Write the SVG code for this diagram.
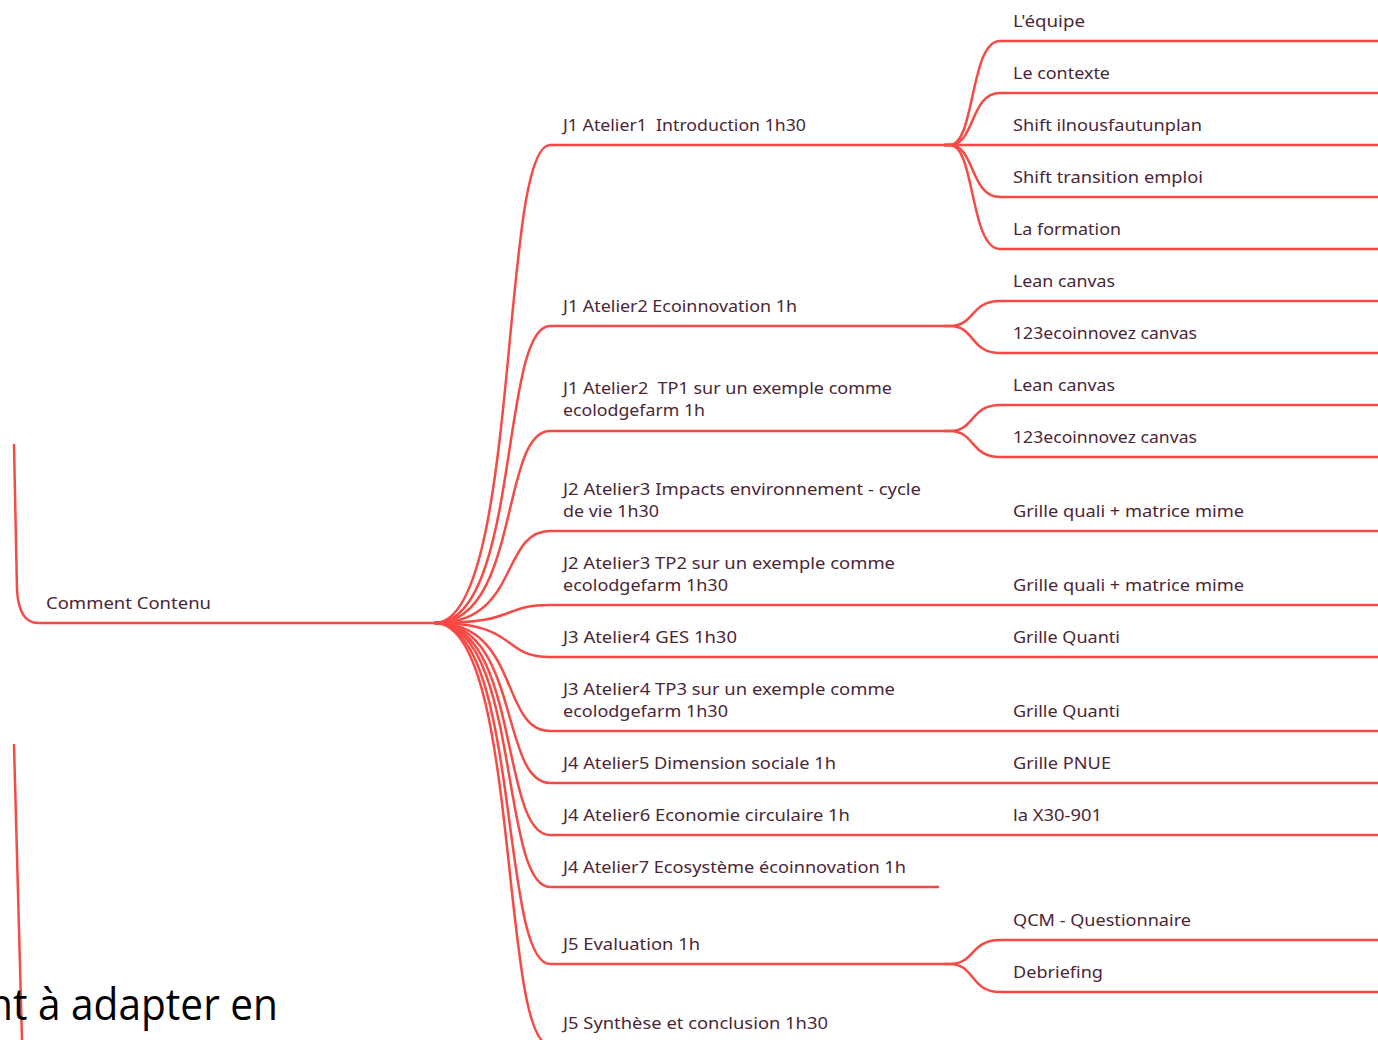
<svg xmlns="http://www.w3.org/2000/svg" width="1378" height="1040" viewBox="0 0 1378 1040">
<style>
.t{font-family:"Noto Sans","Open Sans",sans-serif;font-size:17px;fill:#4a2736;}
.c{fill:none;stroke:#f64a45;stroke-width:2.5;stroke-linecap:round;}
.big{font-family:"Open Sans","Noto Sans",sans-serif;font-size:44px;fill:#000;}
</style>
<rect width="1378" height="1040" fill="#fff"/>
<g id="connectors">
<path class="c" d="M14,445 L17,590 Q19,623 38,623 H435" stroke-width="2.5"/>
<path class="c" d="M14,745 L22,1040" stroke-width="2"/>
<path class="c" d="M435,623 C520,623 500,145 550,145 H945"/>
<path class="c" d="M435,623 C520,623 500,326 550,326 H945"/>
<path class="c" d="M435,623 C520,623 500,431 550,431 H945"/>
<path class="c" d="M435,623 C520,623 500,531 550,531 H1378"/>
<path class="c" d="M435,623 C520,623 500,605 550,605 H1378"/>
<path class="c" d="M435,623 C520,623 500,657 550,657 H1378"/>
<path class="c" d="M435,623 C520,623 500,731 550,731 H1378"/>
<path class="c" d="M435,623 C520,623 500,783 550,783 H1378"/>
<path class="c" d="M435,623 C520,623 500,835 550,835 H1378"/>
<path class="c" d="M435,623 C520,623 500,887 550,887 H938"/>
<path class="c" d="M435,623 C520,623 500,964 550,964 H945"/>
<path class="c" d="M435,623 C520,623 500,1045 550,1045 H945"/>
<path class="c" d="M945,145 H950 C975,145 970,41 1000,41 H1378"/>
<path class="c" d="M945,145 H950 C975,145 970,93 1000,93 H1378"/>
<path class="c" d="M945,145 H1378"/>
<path class="c" d="M945,145 H950 C975,145 970,197 1000,197 H1378"/>
<path class="c" d="M945,145 H950 C975,145 970,249 1000,249 H1378"/>
<path class="c" d="M945,326 H950 C975,326 970,301 1000,301 H1378"/>
<path class="c" d="M945,326 H950 C975,326 970,353 1000,353 H1378"/>
<path class="c" d="M945,431 H950 C975,431 970,405 1000,405 H1378"/>
<path class="c" d="M945,431 H950 C975,431 970,457 1000,457 H1378"/>
<path class="c" d="M945,964 H950 C975,964 970,940 1000,940 H1378"/>
<path class="c" d="M945,964 H950 C975,964 970,992 1000,992 H1378"/>
</g>
<g id="note"><text class="big" x="-12" y="1020" textLength="290" lengthAdjust="spacingAndGlyphs">nt à adapter en</text></g>
<g id="root"><text class="t" x="46" y="609" textLength="165" lengthAdjust="spacingAndGlyphs">Comment Contenu</text></g>
<g id="n1"><text class="t" x="563" y="131" textLength="243" lengthAdjust="spacingAndGlyphs" xml:space="preserve">J1 Atelier1  Introduction 1h30</text></g>
<g id="n2"><text class="t" x="563" y="312" textLength="234" lengthAdjust="spacingAndGlyphs">J1 Atelier2 Ecoinnovation 1h</text></g>
<g id="n3"><text class="t" x="563" y="394" textLength="329" lengthAdjust="spacingAndGlyphs" xml:space="preserve">J1 Atelier2  TP1 sur un exemple comme</text><text class="t" x="563" y="416" textLength="142" lengthAdjust="spacingAndGlyphs">ecolodgefarm 1h</text></g>
<g id="n4"><text class="t" x="563" y="495" textLength="358" lengthAdjust="spacingAndGlyphs">J2 Atelier3 Impacts environnement - cycle</text><text class="t" x="563" y="517" textLength="96" lengthAdjust="spacingAndGlyphs">de vie 1h30</text></g>
<g id="n5"><text class="t" x="563" y="569" textLength="332" lengthAdjust="spacingAndGlyphs">J2 Atelier3 TP2 sur un exemple comme</text><text class="t" x="563" y="591" textLength="165" lengthAdjust="spacingAndGlyphs">ecolodgefarm 1h30</text></g>
<g id="n6"><text class="t" x="563" y="643" textLength="174" lengthAdjust="spacingAndGlyphs">J3 Atelier4 GES 1h30</text></g>
<g id="n7"><text class="t" x="563" y="695" textLength="332" lengthAdjust="spacingAndGlyphs">J3 Atelier4 TP3 sur un exemple comme</text><text class="t" x="563" y="717" textLength="165" lengthAdjust="spacingAndGlyphs">ecolodgefarm 1h30</text></g>
<g id="n8"><text class="t" x="563" y="769" textLength="273" lengthAdjust="spacingAndGlyphs">J4 Atelier5 Dimension sociale 1h</text></g>
<g id="n9"><text class="t" x="563" y="821" textLength="287" lengthAdjust="spacingAndGlyphs">J4 Atelier6 Economie circulaire 1h</text></g>
<g id="n10"><text class="t" x="563" y="873" textLength="343" lengthAdjust="spacingAndGlyphs">J4 Atelier7 Ecosystème écoinnovation 1h</text></g>
<g id="n11"><text class="t" x="563" y="950" textLength="137" lengthAdjust="spacingAndGlyphs">J5 Evaluation 1h</text></g>
<g id="n12"><text class="t" x="563" y="1029" textLength="265" lengthAdjust="spacingAndGlyphs">J5 Synthèse et conclusion 1h30</text></g>
<g id="c1"><text class="t" x="1013" y="27" textLength="72" lengthAdjust="spacingAndGlyphs">L'équipe</text></g>
<g id="c2"><text class="t" x="1013" y="79" textLength="97" lengthAdjust="spacingAndGlyphs">Le contexte</text></g>
<g id="c3"><text class="t" x="1013" y="131" textLength="189" lengthAdjust="spacingAndGlyphs">Shift ilnousfautunplan</text></g>
<g id="c4"><text class="t" x="1013" y="183" textLength="190" lengthAdjust="spacingAndGlyphs">Shift transition emploi</text></g>
<g id="c5"><text class="t" x="1013" y="235" textLength="108" lengthAdjust="spacingAndGlyphs">La formation</text></g>
<g id="c6"><text class="t" x="1013" y="287" textLength="102" lengthAdjust="spacingAndGlyphs">Lean canvas</text></g>
<g id="c7"><text class="t" x="1013" y="339" textLength="184" lengthAdjust="spacingAndGlyphs">123ecoinnovez canvas</text></g>
<g id="c8"><text class="t" x="1013" y="391" textLength="102" lengthAdjust="spacingAndGlyphs">Lean canvas</text></g>
<g id="c9"><text class="t" x="1013" y="443" textLength="184" lengthAdjust="spacingAndGlyphs">123ecoinnovez canvas</text></g>
<g id="c10"><text class="t" x="1013" y="517" textLength="231" lengthAdjust="spacingAndGlyphs">Grille quali + matrice mime</text></g>
<g id="c11"><text class="t" x="1013" y="591" textLength="231" lengthAdjust="spacingAndGlyphs">Grille quali + matrice mime</text></g>
<g id="c12"><text class="t" x="1013" y="643" textLength="107" lengthAdjust="spacingAndGlyphs">Grille Quanti</text></g>
<g id="c13"><text class="t" x="1013" y="717" textLength="107" lengthAdjust="spacingAndGlyphs">Grille Quanti</text></g>
<g id="c14"><text class="t" x="1013" y="769" textLength="98" lengthAdjust="spacingAndGlyphs">Grille PNUE</text></g>
<g id="c15"><text class="t" x="1013" y="821" textLength="89" lengthAdjust="spacingAndGlyphs">la X30-901</text></g>
<g id="c16"><text class="t" x="1013" y="926" textLength="178" lengthAdjust="spacingAndGlyphs">QCM - Questionnaire</text></g>
<g id="c17"><text class="t" x="1013" y="978" textLength="90" lengthAdjust="spacingAndGlyphs">Debriefing</text></g>
</svg>
